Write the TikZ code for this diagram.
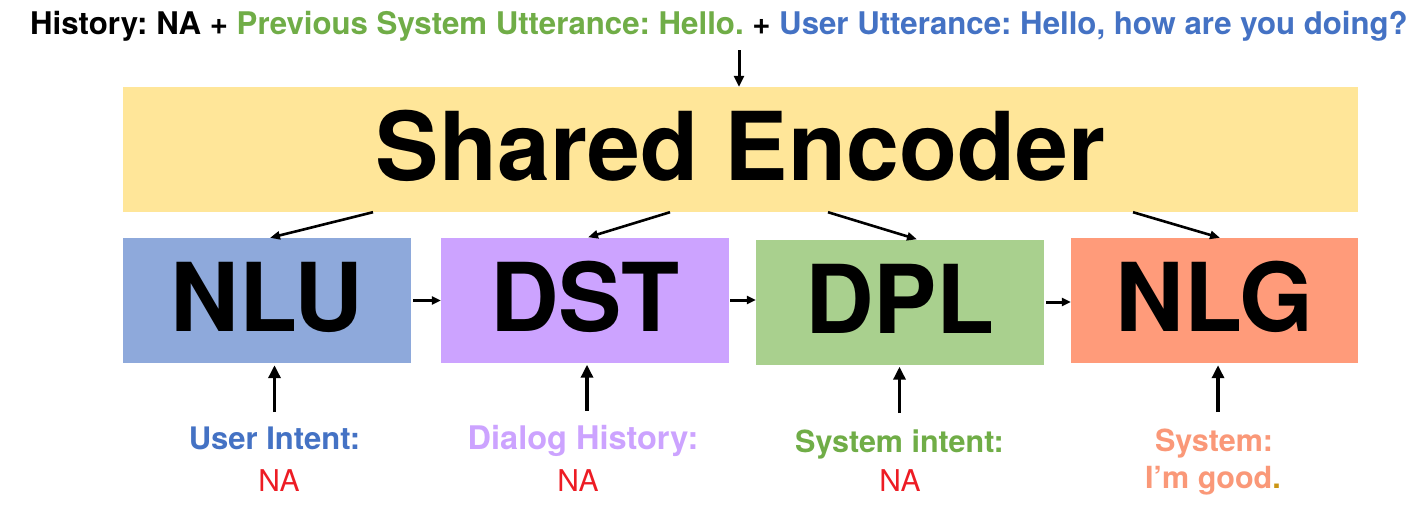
\documentclass[tikz,border=0pt]{standalone}
\usepackage{fontspec}
\setmainfont{TeX Gyre Heros}
\usetikzlibrary{arrows.meta}
\frenchspacing
\definecolor{encfill}{RGB}{255,230,153}
\definecolor{nlufill}{RGB}{142,169,219}
\definecolor{dstfill}{RGB}{204,163,255}
\definecolor{dplfill}{RGB}{169,208,142}
\definecolor{nlgfill}{RGB}{255,155,122}
\definecolor{tblue}{RGB}{68,114,196}
\definecolor{tgreen}{RGB}{112,173,71}
\definecolor{tpurple}{RGB}{204,163,255}
\definecolor{tsalmon}{RGB}{250,152,120}
\definecolor{tred}{RGB}{237,28,36}
\definecolor{tgold}{RGB}{204,150,20}
\tikzset{
  blk/.style={rectangle, inner sep=0pt, minimum width=288pt, minimum height=125pt,
    font=\bfseries\fontsize{95}{100}\selectfont, text height=68pt, text depth=6pt},
  lab/.style={anchor=base, inner sep=0pt, font=\bfseries\fontsize{31}{36}\selectfont},
  naval/.style={anchor=base, inner sep=0pt, text=tred, font=\fontsize{30}{36}\selectfont},
  arrdiag/.style={-{Triangle[length=10pt,width=8pt]}, line width=2.6pt, black},
  arrhor/.style={-{Triangle[length=9pt,width=8pt]}, line width=3pt, black},
  arrvert/.style={-{Triangle[length=13pt,width=12pt]}, line width=3.6pt, black},
}
\begin{document}
\begin{tikzpicture}[x=1pt,y=-1pt]
\useasboundingbox[fill=white] (0,0) rectangle (1423,507);

% top input text
\node[anchor=base, inner sep=0pt, font=\bfseries\fontsize{31.2}{36}\selectfont] (hist) at (719,34)
  {History: NA + \textcolor{tgreen}{Previous System Utterance: Hello.} + \textcolor{tblue}{User Utterance: Hello, how are you doing?}};
\coordinate (topin) at (739,50);

% boxes
\node[blk, fill=encfill, minimum width=1235pt] (enc) at (740.5,149.5) {Shared Encoder};
\node[blk, fill=nlufill] (nlu) at (267,300.5) {NLU};
\node[blk, fill=dstfill] (dst) at (585,300) {DST};
\node[blk, fill=dplfill] (dpl) at (900,302) {DPL};
\node[blk, fill=nlgfill, minimum width=287pt] (nlg) at (1214.5,300.5) {NLG};

% bottom labels
\node[lab, text=tblue] (ui) at (274.5,449) {User Intent:};
\node[naval] (na1) at (279,491) {NA};
\node[lab, text=tpurple, font=\bfseries\fontsize{32.5}{36}\selectfont] (dh) at (583,449) {Dialog History:};
\node[naval] (na2) at (578,491) {NA};
\node[lab, text=tgreen, font=\bfseries\fontsize{30.5}{36}\selectfont] (si) at (899.5,452) {System intent:};
\node[naval] (na3) at (900,491) {NA};
\node[lab, text=tsalmon, font=\bfseries\fontsize{30.5}{36}\selectfont] (sys) at (1214,451) {System:};
\node[lab, text=tsalmon, font=\bfseries\fontsize{30.5}{36}\selectfont] (good) at (1213,488) {I’m good\textcolor{tgold}{.}};

% arrows
\draw[arrvert, line width=3pt, -{Triangle[length=11pt,width=10pt]}] (topin) -- (topin |- enc.north);

\draw[arrdiag] ([xshift=-367.5pt]enc.south) -- ([xshift=3pt]nlu.north);
\draw[arrdiag] ([xshift=-70.5pt]enc.south) -- ([xshift=3pt]dst.north);
\draw[arrdiag] ([xshift=87.5pt]enc.south) -- ([xshift=17pt]dpl.north);
\draw[arrdiag] ([xshift=392.5pt]enc.south) -- ([xshift=5.5pt]nlg.north);

\draw[arrhor, shorten <=2pt] (nlu.east) -- (nlu.east -| dst.west);
\draw[arrhor, shorten <=1pt] (dst.east) -- (dst.east -| dpl.west);
\draw[arrhor, shorten <=2pt] (dpl.east) -- (dpl.east -| nlg.west);

\draw[arrvert, shorten <=14pt, shorten >=2pt] (ui.north) -- (ui.north |- nlu.south);
\draw[arrvert, shorten <=14pt, shorten >=2pt] ([xshift=4pt]dh.north) -- ([xshift=4pt]dh.north |- dst.south);
\draw[arrvert, shorten <=16pt, shorten >=2pt] (si.north) -- (si.north |- dpl.south);
\draw[arrvert, shorten <=16pt, shorten >=2pt] ([xshift=4pt]sys.north) -- ([xshift=4pt]sys.north |- nlg.south);
\end{tikzpicture}
\end{document}
